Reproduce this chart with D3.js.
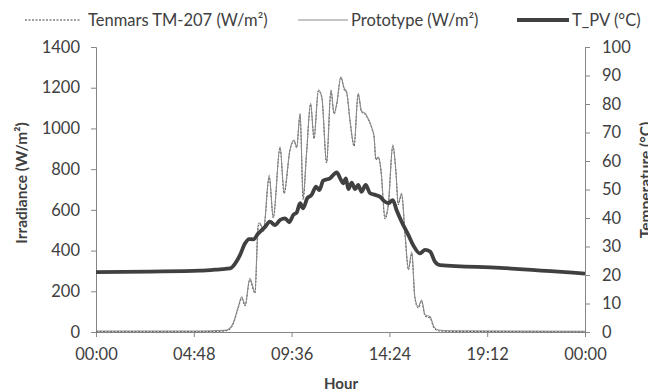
<!DOCTYPE html>
<html><head><meta charset="utf-8">
<script src="https://cdn.jsdelivr.net/npm/d3@7"></script>
<style>body{margin:0;background:#fff}svg{display:block}text{font-family:Lato,"Open Sans",sans-serif;fill:#404040}</style>
</head><body><svg id="c" width="648" height="392"></svg>
<script>
// minutes since midnight
const irrTime = [0,306,380,395,403,419,429,439,453,468,478,483,493,510,522,542,554,571,583,591,601,610,620,632,642,655,665,679,692,701,709,721,731,738,748,760,772,782,792,798,813,819,824,832,839,851,861,874,883,890,900,910,920,930,939,949,959,969,984,995,1008,1042,1440];
const protoVals = [5,5,8,20,40,124,173,133,264,198,535,534,501,771,566,910,689,894,943,910,1074,665,879,1123,959,1189,1156,837,1189,1074,1123,1254,1197,1180,1041,919,1172,1085,1075,1060,1000,960,850,860,800,566,632,919,796,632,681,485,313,394,173,124,157,84,75,26,10,6,4];
const tenmarsVals = [2,2,5,15,35,118,165,128,255,190,520,530,495,760,560,905,680,890,940,905,1068,650,875,1118,950,1185,1150,830,1185,1070,1118,1250,1190,1175,1035,912,1168,1080,1070,1055,995,955,845,855,792,555,625,912,790,625,675,478,305,385,165,118,150,78,68,20,6,3,2];
const tempTime = [0,159,306,365,395,409,424,439,451,463,478,498,512,527,542,557,569,581,591,601,610,622,635,648,658,669,689,709,719,728,736,743,753,763,772,782,794,807,822,836,851,861,874,885,900,920,934,954,969,984,998,1013,1190,1440];
const tempVals = [21.0,21.2,21.5,22.0,22.3,23.9,27.0,31.1,32.6,32.5,34.6,36.9,38.7,37.5,39.3,39.9,38.5,41.1,41.9,45.2,43.4,46.9,48.1,51.0,49.8,53.1,53.9,56.0,53.9,52.2,53.9,50.1,52.4,50.1,51.6,49.2,51.6,48.7,48.1,47.5,45.7,45.2,46.3,42.8,38.7,34.0,30.5,27.6,28.8,28.2,24.7,23.5,22.5,20.5];
const xTicks = [0,288,576,864,1152,1440];
const xTickLabels = ["00:00","04:48","09:36","14:24","19:12","00:00"];
const irrTicks = [0,200,400,600,800,1000,1200,1400];
const tempTicks = [0,10,20,30,40,50,60,70,80,90,100];
const seriesNames = ["Tenmars TM-207 (W/m²)","Prototype (W/m²)","T_PV (°C)"];

const svg = d3.select("#c");
const L=96,R=585,T=47,B=332;
const x = d3.scaleLinear().domain([0,1440]).range([L,R]);
const yI = d3.scaleLinear().domain([0,1400]).range([B,T]);
const yT = d3.scaleLinear().domain([0,100]).range([B,T]);
const axisCol="#868686";
const FS=16.5;

function styleAxis(g){
  g.select(".domain").attr("stroke",axisCol);
  g.selectAll(".tick line").attr("stroke",axisCol);
  g.selectAll(".tick text").attr("font-size",FS).style("fill","#404040");
}
svg.append("g").attr("transform",`translate(0,${B})`)
  .call(d3.axisBottom(x).tickValues(xTicks).tickFormat((d,i)=>xTickLabels[i]).tickSizeOuter(0).tickSize(5).tickPadding(11))
  .call(styleAxis);
svg.append("g").attr("transform",`translate(${L},0)`)
  .call(d3.axisLeft(yI).tickValues(irrTicks).tickFormat(d3.format("d")).tickSizeOuter(0).tickSize(5).tickPadding(11))
  .call(styleAxis);
svg.append("g").attr("transform",`translate(${R},0)`)
  .call(d3.axisRight(yT).tickValues(tempTicks).tickFormat(d3.format("d")).tickSizeOuter(0).tickSize(5).tickPadding(12))
  .call(styleAxis);

const curve = d3.curveMonotoneX;
const lineI = d3.line().x(d=>x(d[0])).y(d=>yI(d[1])).curve(curve);
const lineT = d3.line().x(d=>x(d[0])).y(d=>yT(d[1])).curve(curve);
svg.append("path").datum(irrTime.map((t,i)=>[t,tenmarsVals[i]])).attr("d",lineI)
  .attr("fill","none").attr("stroke","#404040").attr("stroke-width",1).attr("stroke-dasharray","2,1.5");
svg.append("path").datum(irrTime.map((t,i)=>[t,protoVals[i]])).attr("d",lineI)
  .attr("fill","none").attr("stroke","#8c8c8c").attr("stroke-width",1.1);
svg.append("path").datum(tempTime.map((t,i)=>[t,tempVals[i]])).attr("d",lineT)
  .attr("fill","none").attr("stroke","#404040").attr("stroke-width",3.8).attr("stroke-linejoin","round");

// legend
const leg = [{x1:25,x2:81,tx:88,dash:"2,1.5",w:1,c:"#404040"},{x1:298,x2:348,tx:351,dash:null,w:1.1,c:"#8c8c8c"},{x1:517,x2:569,tx:572,dash:null,w:3.8,c:"#404040"}];
leg.forEach((l,i)=>{
  svg.append("line").attr("x1",l.x1).attr("x2",l.x2).attr("y1",20).attr("y2",20)
    .attr("stroke",l.c).attr("stroke-width",l.w).attr("stroke-dasharray",l.dash);
  svg.append("text").attr("x",l.tx).attr("y",26).attr("font-size",FS).text(seriesNames[i]);
});

// axis titles
svg.append("text").attr("transform","translate(27,183) rotate(-90)").attr("text-anchor","middle")
  .attr("font-size",15.5).attr("font-weight","bold").text("Irradiance (W/m²)");
svg.append("text").attr("transform","translate(651,180) rotate(-90)").attr("text-anchor","middle")
  .attr("font-size",15.5).attr("font-weight","bold").text("Temperature (°C)");
svg.append("text").attr("x",341).attr("y",389).attr("text-anchor","middle")
  .attr("font-size",15).attr("font-weight","bold").text("Hour");
</script></body></html>
